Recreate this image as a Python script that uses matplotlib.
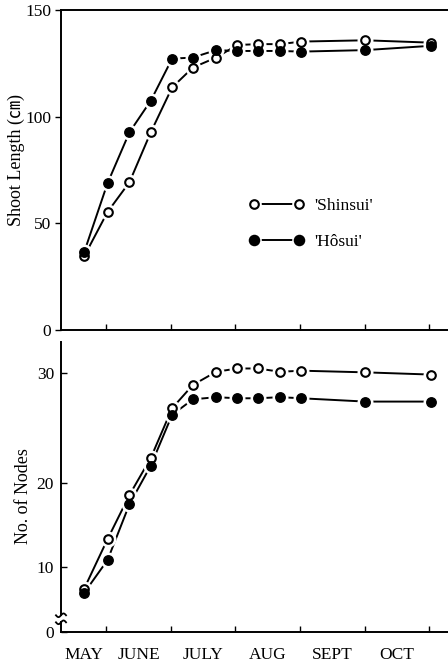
import numpy as np
import matplotlib
matplotlib.use('Agg')
import matplotlib.pyplot as plt
from matplotlib.lines import Line2D
from matplotlib.legend_handler import HandlerTuple
from matplotlib.transforms import blended_transform_factory

plt.rcParams['font.family'] = ['Liberation Serif', 'Noto Sans CJK JP']

# sampling dates, in months counted from 1 May
dates = [0.66, 1.02, 1.36, 1.69, 2.02, 2.34, 2.70, 3.03, 3.35, 3.69, 4.02, 5.01, 6.02]
months = ['MAY', 'JUNE', 'JULY', 'AUG', 'SEPT', 'OCT']

# shoot length (cm)
shinsui_len = [34.6, 55.3, 69.3, 92.7, 113.7, 123.0, 127.7, 133.6, 134.0, 134.0, 135.2, 135.8, 134.7]
hosui_len = [36.6, 68.8, 92.7, 107.5, 127.2, 127.7, 131.2, 130.8, 130.8, 130.8, 130.5, 131.2, 133.2]

# number of nodes
shinsui_nodes = [7.4, 13.3, 18.6, 22.3, 26.8, 28.9, 30.1, 30.4, 30.4, 30.1, 30.2, 30.05, 29.85]
hosui_nodes = [6.9, 10.8, 17.5, 21.6, 26.2, 27.6, 27.8, 27.7, 27.7, 27.8, 27.7, 27.4, 27.4]

LW = 1.4
MS_OPEN, MS_FILL, MS_HALO = 6.2, 6.8, 10.5


def draw(ax, y_open, y_fill):
    # lines first, then white halos (gaps round the points), then the points
    for y in (y_open, y_fill):
        ax.plot(dates, y, color='k', lw=LW, zorder=1)
    for y in (y_open, y_fill):
        ax.plot(dates, y, ls='none', marker='o', ms=MS_HALO, mfc='white', mec='white', zorder=2)
    ax.plot(dates, y_open, ls='none', marker='o', ms=MS_OPEN, mfc='white', mec='k', mew=1.5, zorder=3)
    ax.plot(dates, y_fill, ls='none', marker='o', ms=MS_FILL, mfc='k', mec='k', zorder=3)


def month_axis(ax, labels):
    ax.set_xlim(0.30, 6.29)
    ax.set_xticks(range(1, len(months) + 1))
    ax.set_xticklabels([])
    ax.tick_params(axis='x', which='major', direction='in', length=4, width=1)
    if labels:
        lo = ax.get_xlim()[0]
        centers = [(lo + 1) / 2] + [i + 0.5 for i in range(1, len(months))]
        ax.set_xticks(centers, minor=True)
        ax.set_xticklabels(months, minor=True)
        ax.tick_params(axis='x', which='minor', length=0, pad=10.5, labelsize=12.5)


fig = plt.figure(figsize=(4.48, 6.64), dpi=100)
ax1 = fig.add_axes([61 / 448, 1 - 330 / 664, 387 / 448, 320 / 664])
ax2 = fig.add_axes([61 / 448, 1 - 632 / 664, 387 / 448, 290 / 664])

# ---- top: shoot length
draw(ax1, shinsui_len, hosui_len)
month_axis(ax1, False)
ax1.set_ylim(0, 150)
ax1.set_yticks([0, 50, 100, 150])
ax1.tick_params(axis='y', direction='out', length=4, width=1, labelsize=12.5, pad=3)
ax1.spines['right'].set_visible(False)
for s in ax1.spines.values():
    s.set_linewidth(1.4)
ax1.set_ylabel('Shoot Length (㎝)', fontsize=13)
ax1.yaxis.set_label_coords(-0.092, 0.53)

def handle(mfc, ms):
    return (Line2D([], [], color='k', lw=LW),
            Line2D([], [], ls='none', marker='o', ms=MS_HALO - 1, mfc='white', mec='white'),
            Line2D([], [], ls='none', marker='o', ms=ms, mfc=mfc, mec='k', mew=1.5))

ax1.legend([handle('white', MS_OPEN), handle('k', MS_FILL)], ["'Shinsui'", "'Hôsui'"],
           handler_map={tuple: HandlerTuple(ndivide=1, pad=0)}, numpoints=2,
           frameon=False, fontsize=12.5, handlelength=3.2, handletextpad=0.6,
           labelspacing=1.15, borderpad=0, borderaxespad=0,
           loc='upper left', bbox_to_anchor=(0.485, 0.414))

# ---- bottom: number of nodes (the scale of the original is not even)
knot_v = np.array([-50.0, 10.0, 20.0, 30.0, 80.0])
knot_p = np.array([-500.0, 0.0, 83.3, 193.3, 743.3])
ax2.set_yscale('function', functions=(lambda v: np.interp(v, knot_v, knot_p),
                                      lambda p: np.interp(p, knot_p, knot_v)))
draw(ax2, shinsui_nodes, hosui_nodes)
month_axis(ax2, True)
y_bot, y_top = 2.2, 32.8
ax2.set_ylim(y_bot, y_top)
ax2.set_yticks([y_bot, 10, 20, 30])
ax2.set_yticklabels(['0', '10', '20', '30'])
ax2.tick_params(axis='y', direction='in', length=4, width=1, labelsize=12.5, pad=5)
ax2.spines['right'].set_visible(False)
ax2.spines['top'].set_visible(False)
for s in ax2.spines.values():
    s.set_linewidth(1.4)
ax2.set_ylabel('No. of Nodes', fontsize=13)
ax2.yaxis.set_label_coords(-0.075, 0.469)

# axis break on the left spine
brk_hi, brk_lo = 4.2, 3.36
ax2.spines['left'].set_bounds(brk_hi, y_top)
tr = blended_transform_factory(ax2.transAxes, ax2.transData)
ax2.plot([0, 0], [y_bot, brk_lo], color='k', lw=1.4, transform=tr, clip_on=False)
t = np.linspace(-1, 1, 30)
for yb in (brk_hi, brk_lo):
    ax2.plot(0.013 * t, yb + 0.22 * np.sin(np.pi * t), color='k', lw=1.3,
             transform=tr, clip_on=False)

fig.savefig('out.png', dpi=100)
